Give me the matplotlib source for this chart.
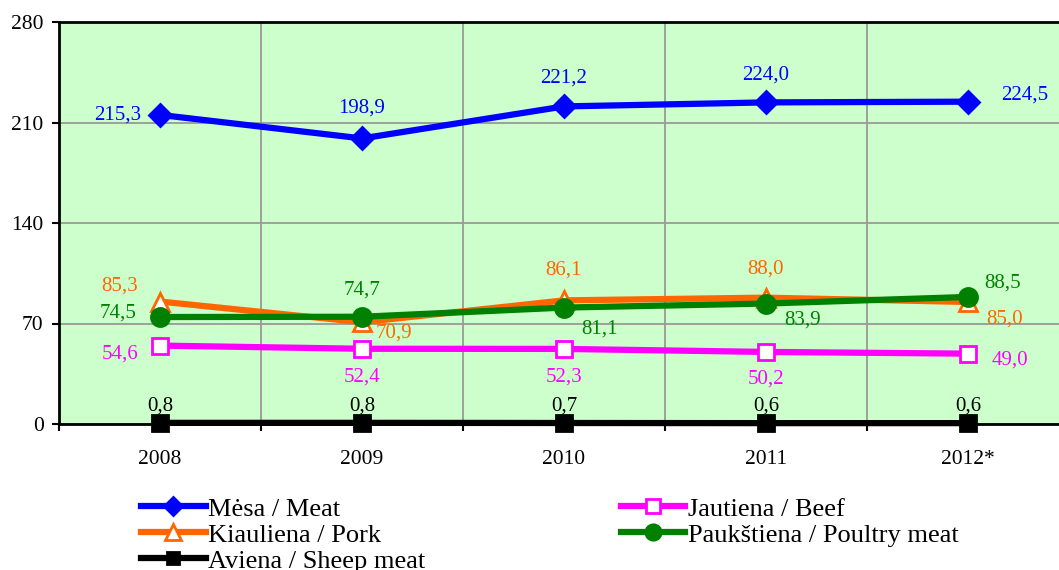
import matplotlib.pyplot as plt
import numpy as np

years = ['2008', '2009', '2010', '2011', '2012*']
meat = [215.3, 198.9, 221.2, 224.0, 224.5]
pork = [85.3, 70.9, 86.1, 88.0, 85.0]
sheep = [0.8, 0.8, 0.7, 0.6, 0.6]
beef = [54.6, 52.4, 52.3, 50.2, 49.0]
poultry = [74.5, 74.7, 81.1, 83.9, 88.5]

labels = ['Mėsa / Meat', 'Kiauliena / Pork', 'Aviena / Sheep meat',
          'Jautiena / Beef', 'Paukštiena / Poultry meat']

plt.rcParams['font.family'] = ['Liberation Serif', 'DejaVu Serif']

fig = plt.figure(figsize=(10.59, 5.70), dpi=100)
ax = fig.add_axes([59 / 1059, 1 - 424 / 570, 1010 / 1059, 402 / 570])
ax.set_facecolor('#CCFFCC')

x = np.arange(len(years))
lw = 4.5

# (values, colour, marker, marker size, face colour, label offsets in pixels)
series = [
    (meat, '#0000FF', 'D', 11, '#0000FF',
     [(-42, 0), (0, 30), (0, 28), (0, 27), (57, 7)]),
    (pork, '#FF6600', '^', 13, 'white',
     [(-40, 15), (32, -11), (0, 30), (0, 29), (37, -17)]),
    (sheep, '#000000', 's', 11, '#000000',
     [(0, 17), (0, 17), (0, 17), (0, 17), (0, 17)]),
    (beef, '#FF00FF', 's', 12, 'white',
     [(-40, -8), (0, -28), (0, -28), (0, -27), (42, -6)]),
    (poultry, '#008000', 'o', 13, '#008000',
     [(-42, 4), (0, 27), (36, -21), (37, -17), (35, 14)]),
]

handles = []
for (vals, col, mk, ms, fc, offs), lab in zip(series, labels):
    h, = ax.plot(x, vals, color=col, lw=lw, marker=mk, ms=ms,
                 markerfacecolor=fc, markeredgecolor=col, markeredgewidth=2,
                 label=lab, clip_on=False, zorder=3)
    handles.append(h)
    for xi, v, (dx, dy) in zip(x, vals, offs):
        ax.annotate(f'{v:.1f}'.replace('.', ','), (xi, v), xytext=(dx, dy),
                    textcoords='offset pixels', ha='center', va='center',
                    color=col, fontsize=15, zorder=4)

ax.set_xlim(-0.5, 4.5)
ax.set_ylim(0, 280)
ax.set_yticks([0, 70, 140, 210, 280])
ax.tick_params(axis='y', labelsize=15.5, length=5, width=1.5, direction='out', pad=6)

ax.set_xticks(np.arange(-0.5, 5, 1))
ax.set_xticklabels([])
ax.set_xticks(x, minor=True)
ax.set_xticklabels(years, minor=True)
ax.tick_params(axis='x', which='major', length=5, width=1.5, direction='out')
ax.tick_params(axis='x', which='minor', length=0, labelsize=15.5, pad=19)

ax.grid(True, which='major', color='#999999', lw=1.3)
ax.set_axisbelow(True)
for s in ['left', 'bottom', 'top']:
    ax.spines[s].set_linewidth(2)
ax.spines['right'].set_visible(False)

leg = fig.legend(handles=handles, loc='upper left', bbox_to_anchor=(141 / 1059, 0.128),
                 ncol=2, frameon=False, fontsize=19, handlelength=2.45,
                 handletextpad=0.1, columnspacing=7.4, labelspacing=0.1,
                 borderaxespad=0, borderpad=0, markerscale=0.85)

plt.savefig('out.png', dpi=100)
